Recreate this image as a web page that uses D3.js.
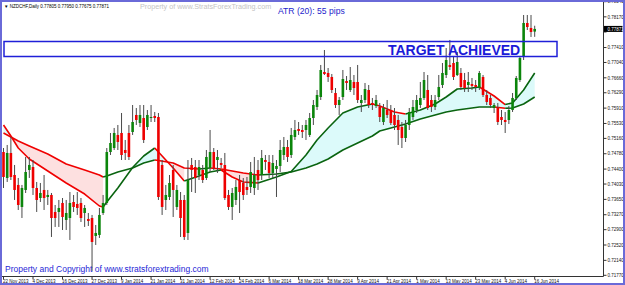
<!DOCTYPE html>
<html>
<head>
<meta charset="utf-8">
<script src="https://cdnjs.cloudflare.com/ajax/libs/d3/7.8.5/d3.min.js"></script>
<style>
body { margin: 0; background: #fff; }
svg { display: block; }
text { font-family: Arial, "Liberation Sans", sans-serif; }
</style>
</head>
<body>
<script>
// NZDCHF daily candles, 22 Nov 2013 .. 17 Jun 2014
const opens = [0.74823,0.74180,0.74799,0.74254,0.74007,0.73462,0.73883,0.74378,0.74452,0.73932,0.73684,0.73883,0.73709,0.73759,0.73338,0.73338,0.73561,0.73140,0.73189,0.73585,
0.73536,0.73561,0.73313,0.73165,0.73189,0.72744,0.72769,0.73313,0.73561,0.74823,0.74922,0.75245,0.75294,0.74873,0.75294,0.75319,0.75740,0.75542,0.75665,0.75442,
0.75665,0.75715,0.75690,0.74502,0.73635,0.73709,0.74378,0.73462,0.73635,0.73635,0.72818,0.74502,0.74452,0.74254,0.74378,0.74180,0.74427,0.74823,0.74625,0.74551,
0.74502,0.73759,0.73462,0.73635,0.74130,0.74056,0.73957,0.73957,0.73932,0.74378,0.74254,0.74625,0.74576,0.74304,0.74403,0.74477,0.74749,0.74947,0.74749,0.75195,
0.75393,0.75368,0.75368,0.75245,0.75665,0.75938,0.76185,0.76804,0.76780,0.76681,0.76284,0.75987,0.76185,0.76581,0.76359,0.76557,0.76557,0.76037,0.76111,0.76359,
0.76037,0.75962,0.75938,0.75566,0.75863,0.75863,0.75740,0.75616,0.75442,0.75170,0.75492,0.75690,0.75863,0.75987,0.76161,0.76359,0.76111,0.75938,0.76185,0.76482,
0.76730,0.76978,0.77027,0.76730,0.76780,0.76606,0.76482,0.76507,0.76482,0.76408,0.76681,0.76235,0.76161,0.75913,0.75913,0.75690,0.75616,0.75616,0.75863,0.76161,
0.76606,0.77176,0.78018,0.77894,0.77805];
const highs = [0.74922,0.74997,0.75195,0.74502,0.74180,0.74007,0.74700,0.74700,0.74625,0.74081,0.74056,0.74254,0.73883,0.73808,0.73511,0.73635,0.73684,0.73635,0.73833,0.73759,
0.73833,0.73684,0.73511,0.73313,0.73264,0.73016,0.73437,0.73759,0.74922,0.75294,0.75418,0.75492,0.75789,0.75121,0.75492,0.75987,0.75913,0.75987,0.75987,0.75863,
0.75987,0.75814,0.75789,0.74625,0.74007,0.74254,0.74502,0.74007,0.73833,0.73759,0.74625,0.74675,0.74625,0.74625,0.74502,0.74873,0.75368,0.74922,0.74873,0.74675,
0.74799,0.73883,0.73932,0.74130,0.74254,0.74180,0.74205,0.74576,0.74700,0.74625,0.74873,0.74749,0.74749,0.74749,0.74625,0.75121,0.75195,0.75121,0.75418,0.75616,
0.75566,0.75492,0.75616,0.75789,0.76111,0.76359,0.76978,0.77349,0.76903,0.76755,0.76408,0.76185,0.76854,0.76705,0.76928,0.76730,0.76978,0.76235,0.76532,0.76482,
0.76161,0.76235,0.76037,0.76012,0.76111,0.75987,0.75913,0.75740,0.75566,0.75616,0.75913,0.76111,0.76235,0.76557,0.76804,0.76730,0.76235,0.76235,0.76730,0.77027,
0.77398,0.77597,0.77176,0.77300,0.76903,0.76780,0.76804,0.76656,0.76606,0.76829,0.76730,0.76359,0.76235,0.76037,0.76037,0.75863,0.75814,0.75962,0.76284,0.76705,
0.77201,0.78216,0.78216,0.78216,0.77950];
const lows = [0.73932,0.74081,0.74130,0.73635,0.73387,0.73189,0.73808,0.74180,0.73759,0.73338,0.73585,0.73387,0.73511,0.72719,0.72967,0.72967,0.72892,0.72892,0.72645,0.73338,
0.73264,0.73090,0.72967,0.72991,0.71877,0.72521,0.72694,0.73264,0.73511,0.74749,0.74873,0.74873,0.74625,0.74625,0.74625,0.75245,0.75492,0.75442,0.75046,0.75368,
0.75566,0.75566,0.73635,0.73264,0.73387,0.73635,0.73214,0.73387,0.72719,0.72645,0.72645,0.73833,0.73808,0.74130,0.74056,0.74130,0.74328,0.74378,0.74304,0.74427,
0.73635,0.73387,0.73140,0.73511,0.73313,0.73635,0.73759,0.73808,0.73759,0.73883,0.74130,0.74378,0.74180,0.74180,0.73709,0.74328,0.74625,0.74576,0.74675,0.75121,
0.75245,0.75170,0.75121,0.75195,0.75492,0.75863,0.76111,0.76730,0.76557,0.76284,0.75913,0.75740,0.76111,0.76359,0.76309,0.76235,0.76037,0.75814,0.76037,0.75913,
0.75863,0.75913,0.75566,0.75492,0.75665,0.75492,0.75368,0.74997,0.74922,0.75071,0.75368,0.75616,0.75789,0.75913,0.76111,0.75863,0.75814,0.75863,0.76111,0.76408,
0.76656,0.76854,0.76606,0.76705,0.76359,0.76309,0.76309,0.76359,0.76309,0.76359,0.76185,0.75987,0.75913,0.75789,0.75492,0.75492,0.75294,0.75517,0.75814,0.76111,
0.76557,0.77101,0.77844,0.77671,0.77675];
const closes = [0.74205,0.74799,0.74205,0.73883,0.73511,0.73932,0.74328,0.74502,0.73932,0.73635,0.73808,0.73684,0.73759,0.73189,0.73189,0.73437,0.73214,0.73313,0.73561,0.73462,
0.73437,0.73189,0.73437,0.73115,0.72595,0.72818,0.73264,0.73561,0.74823,0.75046,0.75294,0.75071,0.74749,0.74799,0.74700,0.75566,0.75616,0.75740,0.75121,0.75740,
0.75690,0.75665,0.73709,0.73462,0.73759,0.74056,0.73883,0.73883,0.73189,0.72719,0.74130,0.74378,0.74180,0.74452,0.74130,0.74700,0.74823,0.74427,0.74700,0.74502,
0.73684,0.73462,0.73808,0.73957,0.73833,0.73759,0.73883,0.74328,0.74254,0.74130,0.74675,0.74576,0.74304,0.74551,0.74477,0.74873,0.74947,0.74700,0.75245,0.75368,
0.75344,0.75319,0.75492,0.75665,0.75987,0.76235,0.76854,0.76755,0.76681,0.76359,0.75987,0.76111,0.76631,0.76532,0.76606,0.76408,0.76111,0.76111,0.76383,0.75987,
0.75987,0.76111,0.75690,0.75913,0.75740,0.75542,0.75492,0.75368,0.75170,0.75492,0.75814,0.75938,0.76111,0.76161,0.76606,0.75913,0.75938,0.76111,0.76433,0.76780,
0.77101,0.76928,0.76681,0.77052,0.76433,0.76408,0.76557,0.76458,0.76433,0.76780,0.76235,0.76062,0.75987,0.75987,0.75566,0.75616,0.75566,0.75863,0.76161,0.76656,
0.77151,0.78018,0.77918,0.77795,0.77871];

// moving averages, read at these bars
const maBars = [0,2,4,7,12,17,22,26,27,28,31,35,38,41,42,46,49,53,56,59,62,65,69,74,78,82,85,88,92,96,100,102,106,109,113,117,120,123,127,129,133,136,138,141,144];
const fastMA = [0.75492,0.75220,0.74922,0.74650,0.74353,0.74056,0.73783,0.73486,0.73462,0.73585,0.73932,0.74440,0.74724,0.74922,0.74823,0.74427,0.74106,0.74229,0.74328,0.74378,
0.74205,0.74081,0.74056,0.74205,0.74340,0.74749,0.75121,0.75418,0.75789,0.75938,0.76012,0.75962,0.75814,0.75764,0.75863,0.76012,0.76185,0.76383,0.76408,0.76433,
0.76210,0.75999,0.76037,0.76359,0.76780];
const slowMA = [0.75294,0.75195,0.75096,0.74972,0.74774,0.74526,0.74378,0.74254,0.74205,0.74230,0.74328,0.74427,0.74551,0.74625,0.74613,0.74551,0.74427,0.74403,0.74427,0.74403,
0.74353,0.74304,0.74254,0.74279,0.74328,0.74427,0.74526,0.74650,0.74873,0.75046,0.75220,0.75344,0.75442,0.75517,0.75640,0.75740,0.75814,0.75863,0.75913,0.75938,
0.75938,0.75905,0.75913,0.76012,0.76185];

// x axis labels, one every 8 bars
const dateLabels = ["22 Nov 2013","4 Dec 2013","16 Dec 2013","27 Dec 2013","9 Jan 2014","21 Jan 2014","31 Jan 2014","12 Feb 2014","24 Feb 2014","6 Mar 2014",
"18 Mar 2014","28 Mar 2014","9 Apr 2014","21 Apr 2014","1 May 2014","13 May 2014","23 May 2014","4 Jun 2014","16 Jun 2014"];
const priceTicks = [0.78545,0.78170,0.77795,0.77410,0.77040,0.76660,0.76290,0.75910,0.75530,0.75160,0.74780,0.74400,0.74030,0.73650,0.73270,0.72900,0.72520,0.72140,0.71770];

const width = 625, height = 285;
const plotRight = 603.5, plotBottom = 276.5;
const tinyFont = 4.5;

const x = d3.scaleLinear().domain([0, 143]).range([3.5, 531]);
const y = d3.scaleLinear().domain([0.7177, 0.78545]).range([275.3, 1.7]);
const fmt = d3.format(".5f");

const svg = d3.select("body").append("svg")
    .attr("width", width)
    .attr("height", height);

svg.append("rect").attr("width", width).attr("height", height).attr("fill", "#fff");

svg.append("clipPath").attr("id", "plotclip")
    .append("rect").attr("x", 2).attr("y", 0).attr("width", plotRight - 2).attr("height", plotBottom);

let plot = svg.append("g").attr("clip-path", "url(#plotclip)");

// MA knots
const knots = maBars.map((b, k) => ({ bar: b, fast: fastMA[k], slow: slowMA[k] }));

function runs(typeOf) {
    let out = [];
    for (let j = 0; j < knots.length - 1; j++) {
        let t = typeOf(j);
        let last = out[out.length - 1];
        if (last && last.type === t) last.pts.push(knots[j + 1]);
        else out.push({ type: t, pts: [knots[j], knots[j + 1]] });
    }
    return out;
}

// cloud between the averages
const fillRuns = runs(j => {
    let fm = (knots[j].fast + knots[j + 1].fast) / 2;
    let sm = (knots[j].slow + knots[j + 1].slow) / 2;
    if (fm > sm) return "up";
    if (knots[j + 1].fast < knots[j].fast) return "down";
    return "none";
});
const area = d3.area().x(d => x(d.bar)).y0(d => y(d.slow)).y1(d => y(d.fast));
plot.selectAll("path.cloud")
    .data(fillRuns.filter(r => r.type !== "none"))
    .enter().append("path")
        .attr("class", "cloud")
        .attr("d", r => area(r.pts))
        .attr("fill", r => r.type === "up" ? "#dcfafa" : "#fde0e0")
        .attr("stroke", "none");

// average lines, coloured by their own slope
["slow", "fast"].forEach(key => {
    let lineRuns = runs(j => knots[j + 1][key] >= knots[j][key] ? "up" : "down");
    let line = d3.line().x(d => x(d.bar)).y(d => y(d[key]));
    plot.selectAll("path.ma-" + key)
        .data(lineRuns)
        .enter().append("path")
            .attr("class", "ma-" + key)
            .attr("d", r => line(r.pts))
            .attr("fill", "none")
            .attr("stroke", r => r.type === "up" ? "#0a6410" : "#f00000")
            .attr("stroke-width", 1.6)
            .attr("stroke-linejoin", "round");
});

// candles
const bars = d3.range(opens.length).map(i => ({ i: i, o: opens[i], h: highs[i], l: lows[i], c: closes[i] }));

plot.selectAll("line.wick")
    .data(bars)
    .enter().append("line")
        .attr("class", "wick")
        .attr("x1", d => x(d.i)).attr("x2", d => x(d.i))
        .attr("y1", d => y(d.h)).attr("y2", d => y(d.l))
        .attr("stroke", "#4a4a4a")
        .attr("stroke-width", 1);

plot.selectAll("rect.body")
    .data(bars)
    .enter().append("rect")
        .attr("class", "body")
        .attr("x", d => x(d.i) - 1.3)
        .attr("y", d => y(Math.max(d.o, d.c)))
        .attr("width", 2.6)
        .attr("height", d => Math.max(1, Math.abs(y(d.o) - y(d.c))))
        .attr("fill", d => d.c >= d.o ? "#0b850b" : "#ee0000");

// target box
svg.append("rect")
    .attr("x", 4).attr("y", 41.5)
    .attr("width", 553).attr("height", 15)
    .attr("fill", "none")
    .attr("stroke", "#1f1fd8")
    .attr("stroke-width", 1.5);
svg.append("text")
    .attr("x", 388).attr("y", 54.5)
    .attr("font-size", 14).attr("font-weight", "bold")
    .attr("fill", "#1a1ad8")
    .text("TARGET ACHIEVED");

// axes frame
svg.append("line").attr("x1", plotRight).attr("x2", plotRight).attr("y1", 0).attr("y2", plotBottom)
    .attr("stroke", "#333").attr("stroke-width", 1);
svg.append("line").attr("x1", 2).attr("x2", plotRight).attr("y1", plotBottom).attr("y2", plotBottom)
    .attr("stroke", "#333").attr("stroke-width", 1);

// price axis (the label under the last-price marker stays hidden, as on the terminal)
const last = closes[closes.length - 1];
let yAxis = svg.append("g");
priceTicks.forEach(p => {
    yAxis.append("line")
        .attr("x1", plotRight).attr("x2", plotRight + 3)
        .attr("y1", y(p)).attr("y2", y(p))
        .attr("stroke", "#333");
    if (Math.abs(y(p) - y(last)) < 6) return;
    yAxis.append("text")
        .attr("x", plotRight + 4).attr("y", y(p) + 1.7)
        .attr("font-size", tinyFont).attr("fill", "#111")
        .text(fmt(p));
});

// last price marker
svg.append("rect")
    .attr("x", plotRight + 0.5).attr("y", y(last) - 3)
    .attr("width", 18.5).attr("height", 6)
    .attr("fill", "#000");
svg.append("text")
    .attr("x", plotRight + 4).attr("y", y(last) + 1.7)
    .attr("font-size", tinyFont).attr("fill", "#fff")
    .text(fmt(last));

// date axis
let xAxis = svg.append("g");
dateLabels.forEach((lab, k) => {
    let bx = x(k * 8);
    xAxis.append("line")
        .attr("x1", bx).attr("x2", bx)
        .attr("y1", plotBottom).attr("y2", plotBottom + 3)
        .attr("stroke", "#333");
    xAxis.append("text")
        .attr("x", bx - 0.5).attr("y", 282.5)
        .attr("font-size", tinyFont).attr("fill", "#111")
        .text(lab);
});

// header texts
const n = opens.length - 1;
svg.append("text")
    .attr("x", 4).attr("y", 7.5)
    .attr("font-size", tinyFont).attr("fill", "#000")
    .text("\u25BC NZDCHF,Daily  " + [opens[n], highs[n], lows[n], closes[n]].map(fmt).join(" "));
svg.append("text")
    .attr("x", 140).attr("y", 8.5)
    .attr("font-size", 7.2).attr("fill", "#c4c4c4")
    .text("Property of www.StratsForexTrading.com");
svg.append("text")
    .attr("x", 278).attr("y", 13.5)
    .attr("font-size", 8.6).attr("fill", "#2424cc")
    .text("ATR (20): 55 pips");
svg.append("text")
    .attr("x", 5).attr("y", 272)
    .attr("font-size", 8.5).attr("fill", "#1f1fd6")
    .text("Property and Copyright of www.stratsforextrading.com");

// outer frame
svg.append("rect")
    .attr("x", 1).attr("y", 1)
    .attr("width", width - 2).attr("height", height - 2)
    .attr("fill", "none")
    .attr("stroke", "#6a6ad8")
    .attr("stroke-width", 2);
</script>
</body>
</html>
